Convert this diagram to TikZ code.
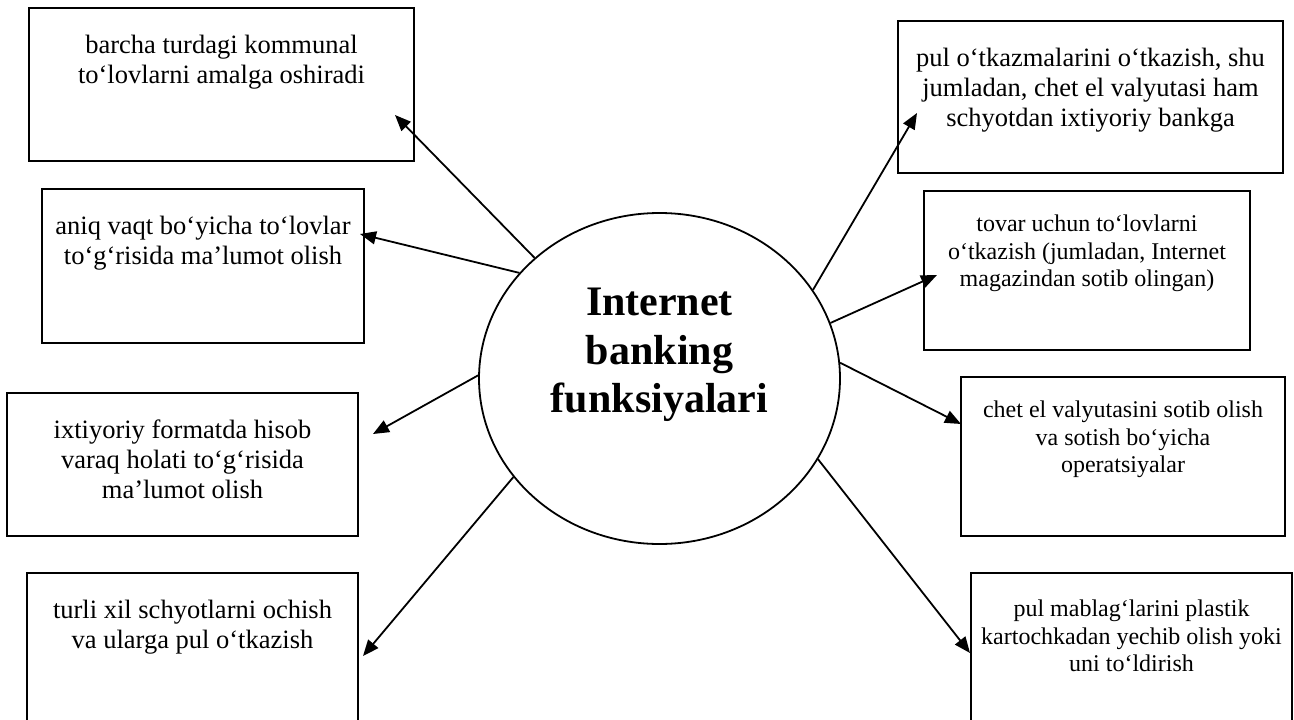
\documentclass[tikz,border=0pt]{standalone}
\usepackage{fontspec}
\setmainfont{Liberation Serif}
\usetikzlibrary{arrows.meta,shapes.geometric,calc}

\begin{document}
\begin{tikzpicture}[x=1pt,y=-1pt,
  panel/.style={draw, rectangle, line width=1.8pt, inner sep=0pt},
  paneltext/.style={anchor=north, inner sep=0pt, align=center,
    font=\fontsize{26.5}{30}\selectfont},
  smalltext/.style={paneltext, font=\fontsize{24}{27.6}\selectfont},
  hub/.style={draw, ellipse, line width=1.8pt, inner sep=0pt,
    minimum width=361pt, minimum height=331pt},
  hubtext/.style={inner sep=0pt, align=center,
    font=\bfseries\fontsize{42}{48.5}\selectfont},
  link/.style={line width=1.8pt, -{Triangle[length=16pt,width=13pt]}}
]
\clip (0,0) rectangle (1294,720);

% central ellipse
\node[hub] (hub) at (659.5,378.5) {};
\node[hubtext] (hubt) at (659.5,355) {Internet\\banking\\funksiyalari};

% left column
\node[panel, minimum width=385pt, minimum height=153pt] (b1) at (221.5,84.5) {};
\node[paneltext] (b1t) at ($(b1.north)+(0,25)$) {\strut barcha turdagi kommunal\\to‘lovlarni amalga oshiradi};

\node[panel, minimum width=322pt, minimum height=154pt] (b2) at (203,266) {};
\node[paneltext] (b2t) at ($(b2.north)+(0,25)$) {\strut aniq vaqt bo‘yicha to‘lovlar\\to‘g‘risida ma’lumot olish};

\node[panel, minimum width=351pt, minimum height=143pt] (b3) at (182.5,464.5) {};
\node[paneltext] (b3t) at ($(b3.north)+(0,25)$) {\strut ixtiyoriy formatda hisob\\varaq holati to‘g‘risida\\ma’lumot olish};

\node[panel, minimum width=331pt, minimum height=162pt] (b4) at (192.5,654) {};
\node[paneltext] (b4t) at ($(b4.north)+(0,25)$) {\strut turli xil schyotlarni ochish\\va ularga pul o‘tkazish};

% right column
\node[panel, minimum width=385pt, minimum height=152pt] (b5) at (1090.5,97) {};
\node[paneltext] (b5t) at ($(b5.north)+(0,25)$) {\strut pul o‘tkazmalarini o‘tkazish, shu\\jumladan, chet el valyutasi ham\\schyotdan ixtiyoriy bankga};

\node[panel, minimum width=326pt, minimum height=159pt] (b6) at (1087,270.5) {};
\node[smalltext] (b6t) at ($(b6.north)+(0,22)$) {\strut tovar uchun to‘lovlarni\\o‘tkazish (jumladan, Internet\\magazindan sotib olingan)};

\node[panel, minimum width=324pt, minimum height=159pt] (b7) at (1123,456.5) {};
\node[smalltext] (b7t) at ($(b7.north)+(0,22)$) {\strut chet el valyutasini sotib olish\\va sotish bo‘yicha\\operatsiyalar};

\node[panel, minimum width=321pt, minimum height=162pt] (b8) at (1131.5,654) {};
\node[smalltext] (b8t) at ($(b8.north)+(0,25)$) {\strut pul mablag‘larini plastik\\kartochkadan yechib olish yoki\\uni to‘ldirish};

% arrow tips
\coordinate (t1) at (395,115);
\coordinate (t2) at (360,234);
\coordinate (t3) at (373,434);
\coordinate (t4) at (363,656);
\coordinate (t5) at (917,113);
\coordinate (t6) at (937,275);
\coordinate (t7) at (961,424);
\coordinate (t8) at (970,653);

% connectors from the ellipse
\draw[link] (hub.136.9) -- (t1);
\draw[link] (hub.143.8) -- (t2);
\draw[link] (hub.179.2) -- (t3);
\draw[link] (hub.214.6) -- (t4);
\draw[link] (hub.30.7) -- (t5);
\draw[link] (hub.18.3) -- (t6);
\draw[link] (hub.5.2) -- (t7);
\draw[link] (hub.-27.9) -- (t8);
\end{tikzpicture}
\end{document}
